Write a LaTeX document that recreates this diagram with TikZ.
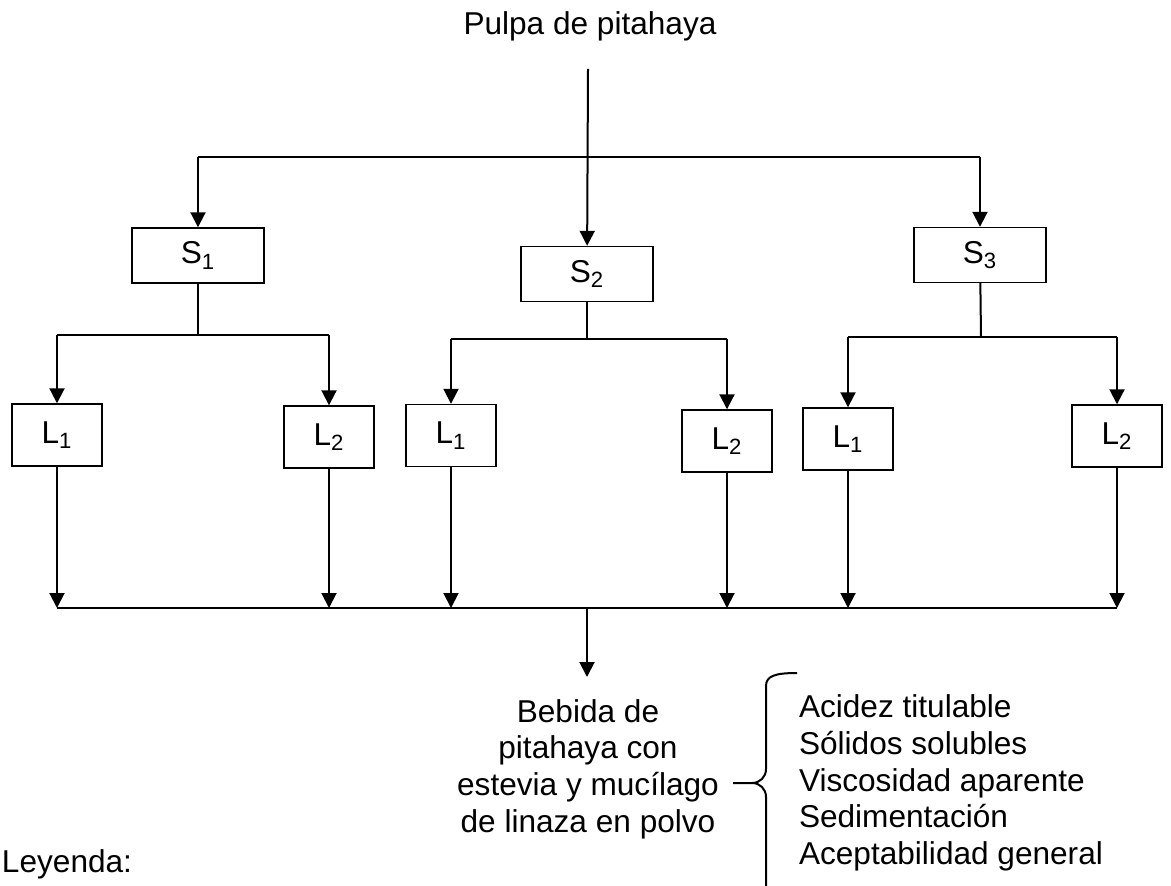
\documentclass[tikz,border=0pt]{standalone}
\usepackage{fontspec}
\setmainfont{Liberation Sans}
\usetikzlibrary{arrows.meta,positioning}

\begin{document}
\begin{tikzpicture}[x=0.5pt, y=-0.5pt, line width=1pt, >={Triangle[length=7.5pt,width=7.5pt]},
   font=\fontsize{15.8}{18.35}\selectfont]
   \useasboundingbox (0,0) rectangle (1171,886);
   \node[anchor=base] (p) at (590,35) {Pulpa de pitahaya};
   \begin{scope}[every node/.style={draw, line width=0.7pt, inner sep=0pt}]
    \begin{scope}[every node/.append style={minimum width=66pt, minimum height=27.5pt}]
     \node (s1) at (198,255.5) {S\textsubscript{1}};
     \node (s2) at (587,274) {S\textsubscript{2}};
     \node (s3) at (980,255) {S\textsubscript{3}};
    \end{scope}
    \begin{scope}[every node/.append style={minimum width=45pt, minimum height=31pt}]
     \node (l11) at (57,435) {L\textsubscript{1}};
     \node (l12) at (329,437) {L\textsubscript{2}};
     \node (l21) at (451,435.5) {L\textsubscript{1}};
     \node (l22) at (727,441) {L\textsubscript{2}};
     \node (l31) at (848,439) {L\textsubscript{1}};
     \node (l32) at (1117,436) {L\textsubscript{2}};
    \end{scope}
   \end{scope}
   \node[align=center, inner sep=0pt] (beb) at (588,769) {Bebida de\\pitahaya con\\estevia y mucílago\\de linaza en polvo};
   \node[align=left, anchor=west, inner sep=0pt] (res) at (798,783) {Acidez titulable\\Sólidos solubles\\Viscosidad aparente\\Sedimentación\\Aceptabilidad general};
   \node[anchor=base west, inner sep=0pt] (ley) at (1,872) {Leyenda:};
   % junctions
   \coordinate (top) at (588,69);
   \coordinate (a) at (588,157);
   \coordinate (b1) at (198,335);
   \coordinate (b2) at (587,339);
   \coordinate (b3) at (981,337);
   \coordinate (c) at (587,608);
   \coordinate (cusp) at (752,783);
   % pulpa to S
   \draw[->] (top) -- (s2);
   \draw (s1 |- a) -- (s3 |- a);
   \draw[->] (s1 |- a) -- (s1);
   \draw[->] (s3 |- a) -- (s3);
   % S to L
   \draw (s1) -- (b1);
   \draw (l11 |- b1) -- (l12 |- b1);
   \draw (s2) -- (b2);
   \draw (l21 |- b2) -- (l22 |- b2);
   \draw (s3) -- (b3);
   \draw (l31 |- b3) -- (l32 |- b3);
   \foreach \l/\b in {l11/b1, l12/b1, l21/b2, l22/b2, l31/b3, l32/b3}
    \draw[->] (\l |- \b) -- (\l);
   % L to bebida
   \draw (l11 |- c) -- (l32 |- c);
   \foreach \l in {l11, l12, l21, l22, l31, l32}
    \draw[->] (\l) -- (\l |- c);
   \draw[->] (c) -- (587,677);
   % brace
   \draw (733,783) -- (cusp) .. controls (760,783) and (766,789) .. (766,797) -- (766,890);
   \draw (cusp) .. controls (760,783) and (766,777) .. (766,769) -- (766,686) .. controls (766,676) and (775,673) .. (797,673);
\end{tikzpicture}
\end{document}
